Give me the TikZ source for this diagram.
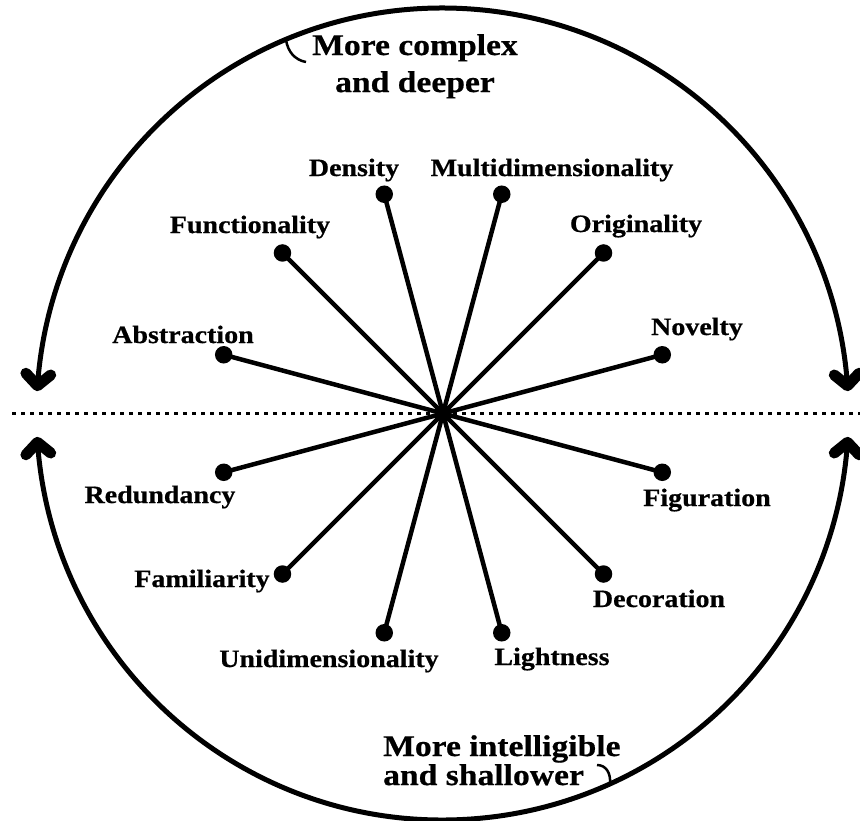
\documentclass[tikz,border=0pt]{standalone}
\usepackage{fontspec}
\setmainfont{Liberation Serif}[FakeStretch=1.12, BoldFeatures={FakeBold=0.6}]
\begin{document}
\begin{tikzpicture}[x=1pt,y=-1pt,
  lab/.style={font=\bfseries\fontsize{25}{30}\selectfont, anchor=base, inner sep=0pt},
  ttl/.style={font=\bfseries\fontsize{30}{36}\selectfont, anchor=base, inner sep=0pt},
  ttlw/.style={ttl, anchor=base west},
  dot/.style={circle, fill=black, inner sep=0pt, minimum size=17.5pt},
  spoke/.style={line width=4.5pt},
  ring/.style={line width=5pt},
  chev/.style={line width=11pt, line cap=round, line join=round},
  hook/.style={line width=2.5pt},
  axisline/.style={line width=3pt, dash pattern=on 4pt off 5pt}]
\useasboundingbox (0,0) rectangle (860,820);
% centres
\coordinate (C) at (443,413.5);
\coordinate (O) at (442.5,414);
% dotted horizontal line
\coordinate (L) at (12,413);
\coordinate (R) at (860,413);
\draw[axisline] (L) -- (R);
% arc ends (arrow tips)
\coordinate (tipLT) at ([shift={(184:406)}]O);
\coordinate (tipRT) at ([shift={(356:406)}]O);
\coordinate (tipLB) at ([shift={(176:406)}]O);
\coordinate (tipRB) at ([shift={(4:406)}]O);
% outer arcs
\draw[ring] (tipLT) arc[start angle=184, end angle=356, radius=406];
\draw[ring] (tipLB) arc[start angle=176, end angle=4, radius=406];
% chevron arrowheads
\foreach \n/\b in {LT/274, RT/266, LB/86, RB/94}
  \draw[chev] ([shift={({\b-47}:17)}]tip\n) -- (tip\n) -- ([shift={({\b+47}:17)}]tip\n);
% hooks
\coordinate (h1a) at (286,40);
\coordinate (h1b) at (306,62);
\draw[hook] (h1a) .. controls (288,52) and (295,60) .. (h1b);
\coordinate (h2a) at (597,765);
\coordinate (h2b) at (610,784);
\draw[hook] (h2a) .. controls (606,765) and (611,773) .. (h2b);
% dots
\node[dot] (dAbs) at ([shift={(195:227)}]C) {};
\node[dot] (dFun) at ([shift={(225:227)}]C) {};
\node[dot] (dDen) at ([shift={(255:227)}]C) {};
\node[dot] (dMul) at ([shift={(285:227)}]C) {};
\node[dot] (dOri) at ([shift={(315:227)}]C) {};
\node[dot] (dNov) at ([shift={(345:227)}]C) {};
\node[dot] (dFig) at ([shift={(15:227)}]C) {};
\node[dot] (dDec) at ([shift={(45:227)}]C) {};
\node[dot] (dLig) at ([shift={(75:227)}]C) {};
\node[dot] (dUni) at ([shift={(105:227)}]C) {};
\node[dot] (dFam) at ([shift={(135:227)}]C) {};
\node[dot] (dRed) at ([shift={(165:227)}]C) {};
\foreach \d in {dAbs,dFun,dDen,dMul,dOri,dNov,dFig,dDec,dLig,dUni,dFam,dRed}
  \draw[spoke] (C) -- (\d.center);
% labels
\node[lab] (lDen) at (354,176) {Density};
\node[lab] (lMul) at (552,176) {Multidimensionality};
\node[lab] (lOri) at (636,232) {Originality};
\node[lab] (lFun) at (250,233) {Functionality};
\node[lab] (lNov) at (697,335) {Novelty};
\node[lab] (lAbs) at (183,343) {Abstraction};
\node[lab] (lRed) at (160,503) {Redundancy};
\node[lab] (lFig) at (707,506) {Figuration};
\node[lab] (lFam) at (202,587) {Familiarity};
\node[lab] (lDec) at (659,607) {Decoration};
\node[lab] (lUni) at (329,667) {Unidimensionality};
\node[lab] (lLig) at (552,665) {Lightness};
% titles
\node[ttl] (tTop1) at (415,55) {More complex};
\node[ttl] (tTop2) at (415,92) {and deeper};
\node[ttlw] (tBot1) at (383,756) {More intelligible};
\node[ttlw] (tBot2) at (383,785) {and shallower};
\end{tikzpicture}
\end{document}
